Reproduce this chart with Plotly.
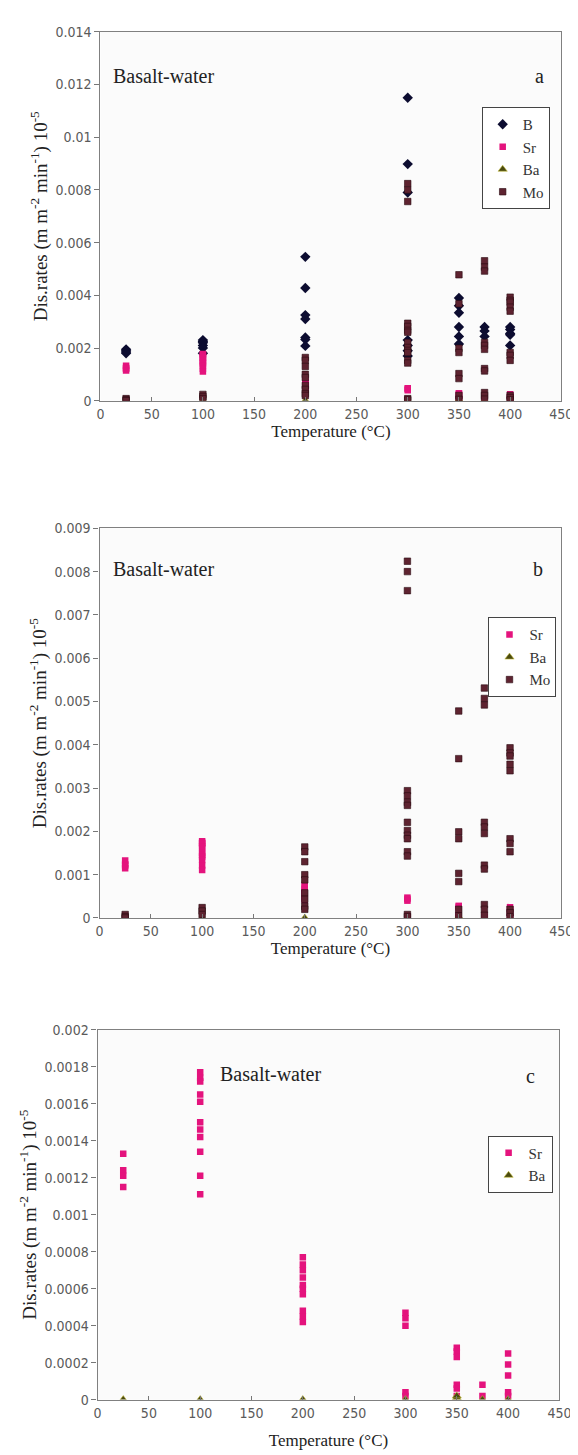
import plotly.graph_objects as go

# ---------------- data ----------------
B_T = [25]*4 + [100]*6 + [200]*7 + [300]*7 + [350]*6 + [375]*3 + [400]*5
B_rate = [0.00195, 0.0019, 0.00185, 0.0018,
          0.0023, 0.00225, 0.0022, 0.0021, 0.002, 0.0018,
          0.00546, 0.00428, 0.00325, 0.0031, 0.0024, 0.00232, 0.00208,
          0.0115, 0.00898, 0.0079, 0.0023, 0.0021, 0.0019, 0.0017,
          0.0039, 0.0036, 0.00334, 0.0028, 0.00244, 0.00215,
          0.0028, 0.00265, 0.00244,
          0.0028, 0.0027, 0.00255, 0.0025, 0.0021]

Sr_T = [25]*4 + [100]*11 + [200]*10 + [300]*5 + [350]*6 + [375]*2 + [400]*5
Sr_rate = [0.00133, 0.00124, 0.00121, 0.00115,
           0.00177, 0.00174, 0.00172, 0.00165, 0.00161, 0.0015, 0.00146, 0.00142, 0.00134, 0.00121, 0.00111,
           0.00077, 0.00073, 0.0007, 0.00066, 0.00062, 0.0006, 0.00057, 0.00048, 0.00045, 0.00042,
           0.00047, 0.00044, 0.0004, 0.00004, 0.00002,
           0.00028, 0.00026, 0.00023, 0.00008, 0.00006, 0.00002,
           0.00008, 0.00002,
           0.00025, 0.00019, 0.00013, 0.00004, 0.00002]

Ba_T = [25, 100, 200, 300, 350, 350, 375, 400]
Ba_rate = [0.0, 0.0, 0.0, 0.0, 0.00001, 0.00002, 0.0, 0.0]

Mo_T = [25]*3 + [100]*3 + [200]*9 + [300]*15 + [350]*8 + [375]*11 + [400]*11
Mo_rate = [0.00008, 0.00003, 0.0,
           0.00024, 0.00016, 0.00008,
           0.00164, 0.00153, 0.0013, 0.001, 0.00088, 0.00058, 0.00043, 0.00027, 0.0002,
           0.00824, 0.008, 0.00756, 0.00294, 0.00282, 0.00267, 0.0026, 0.00221, 0.00202, 0.00191,
           0.00183, 0.00153, 0.00143, 0.00008, 0.00003,
           0.00478, 0.00368, 0.00199, 0.00183, 0.00103, 0.00084, 0.0002, 0.00005,
           0.00531, 0.00507, 0.00492, 0.00221, 0.0021, 0.00195, 0.00122, 0.00113, 0.00031, 0.0002, 0.00006,
           0.00393, 0.00381, 0.00374, 0.00355, 0.0034, 0.00183, 0.00172, 0.00153, 0.0002, 0.00012, 0.00003]

x_ticks = [0, 50, 100, 150, 200, 250, 300, 350, 400, 450]
ya_ticks = [0, 0.002, 0.004, 0.006, 0.008, 0.01, 0.012, 0.014]
ya_text = ["0", "0.002", "0.004", "0.006", "0.008", "0.01", "0.012", "0.014"]
yb_ticks = [0, 0.001, 0.002, 0.003, 0.004, 0.005, 0.006, 0.007, 0.008, 0.009]
yb_text = ["0", "0.001", "0.002", "0.003", "0.004", "0.005", "0.006", "0.007", "0.008", "0.009"]
yc_ticks = [0, 0.0002, 0.0004, 0.0006, 0.0008, 0.001, 0.0012, 0.0014, 0.0016, 0.0018, 0.002]
yc_text = ["0", "0.0002", "0.0004", "0.0006", "0.0008", "0.001", "0.0012", "0.0014", "0.0016", "0.0018", "0.002"]

# ---------------- styles ----------------
SERIF = "Liberation Serif, Times New Roman, serif"
NARROW = "Liberation Sans Narrow, DejaVu Sans Condensed, Arial Narrow, Liberation Sans, sans-serif"
styles = {
    "B": dict(symbol="diamond", color="#0c0c30", size=8, line=dict(width=0)),
    "Sr": dict(symbol="square", color="#e4137d", size=6.5, line=dict(width=0)),
    "Ba": dict(symbol="triangle-up", color="#4a4a10", size=8, line=dict(width=0.6, color="#c8c040")),
    "Mo": dict(symbol="square", color="#5e2330", size=6.5, line=dict(width=0.6, color="#2a0a10")),
}

fig = go.Figure()

def add(name, xs, ys, k, legend):
    fig.add_trace(go.Scatter(
        x=xs, y=ys, mode="markers", name=name, marker=styles[name],
        xaxis="x" if k == 1 else f"x{k}", yaxis="y" if k == 1 else f"y{k}",
        legend=legend))

add("B", B_T, B_rate, 1, "legend")
add("Sr", Sr_T, Sr_rate, 1, "legend")
add("Ba", Ba_T, Ba_rate, 1, "legend")
add("Mo", Mo_T, Mo_rate, 1, "legend")
add("Sr", Sr_T, Sr_rate, 2, "legend2")
add("Ba", Ba_T, Ba_rate, 2, "legend2")
add("Mo", Mo_T, Mo_rate, 2, "legend2")
add("Sr", Sr_T, Sr_rate, 3, "legend3")
add("Ba", Ba_T, Ba_rate, 3, "legend3")

W, H = 578, 1455
def px(x): return x / W
def py(y): return 1 - y / H

ytitle = "Dis.rates (m m<sup>-2</sup> min<sup>-1</sup>) 10<sup>-5</sup>"

def xax(dom, anchor, standoff):
    return dict(domain=dom, anchor=anchor, range=[0, 450], tickvals=x_ticks,
                ticks="inside", ticklen=4, tickcolor="#777", showgrid=False, zeroline=False,
                showline=True, linecolor="#808080", linewidth=1.2, mirror=True,
                tickfont=dict(family=NARROW, size=14, color="#5a5a5a"),
                title=dict(text="Temperature (°C)", font=dict(family=SERIF, size=17, color="#222"),
                           standoff=standoff))

def yax(dom, anchor, rng, tv, tt):
    return dict(domain=dom, anchor=anchor, range=rng, tickvals=tv, ticktext=tt,
                ticks="outside", ticklen=5, tickcolor="#777", showgrid=False, zeroline=False,
                showline=True, linecolor="#808080", linewidth=1.2, mirror=True,
                tickfont=dict(family=NARROW, size=14, color="#5a5a5a"),
                title=dict(text=ytitle, font=dict(family=SERIF, size=19, color="#222"), standoff=2))

def leg(xr, yt):
    return dict(x=px(xr), y=py(yt), xanchor="right", yanchor="top",
                bgcolor="#ffffff", bordercolor="#444", borderwidth=1,
                font=dict(family=SERIF, size=15, color="#333"),
                itemwidth=30, tracegroupgap=4)

fig.update_layout(
    width=W, height=H, margin=dict(l=0, r=0, t=0, b=0),
    paper_bgcolor="#ffffff", plot_bgcolor="#fbfbfb",
    xaxis=xax([px(91), px(565)], "y", 0),
    yaxis=yax([py(389), py(16)], "x", [0, 0.014], ya_ticks, ya_text),
    xaxis2=xax([px(90), px(565)], "y2", 0),
    yaxis2=yax([py(912), py(518)], "x2", [0, 0.009], yb_ticks, yb_text),
    xaxis3=xax([px(88), px(563)], "y3", 14),
    yaxis3=yax([py(1399), py(1025)], "x3", [0, 0.002], yc_ticks, yc_text),
    legend=leg(553, 92),
    legend2=leg(560, 608),
    legend3=leg(556, 1132),
    showlegend=True,
)

def note(text, x, y, anchor="left"):
    fig.add_annotation(text=text, x=px(x), y=py(y), xref="paper", yref="paper",
                       xanchor=anchor, yanchor="middle", showarrow=False,
                       font=dict(family=SERIF, size=20, color="#222"))

note("Basalt-water", 102, 61)
note("a", 543, 61, "center")
note("Basalt-water", 102, 559)
note("b", 541, 559, "center")
note("Basalt-water", 212, 1070)
note("c", 533, 1072, "center")

fig.write_html("out.html")
